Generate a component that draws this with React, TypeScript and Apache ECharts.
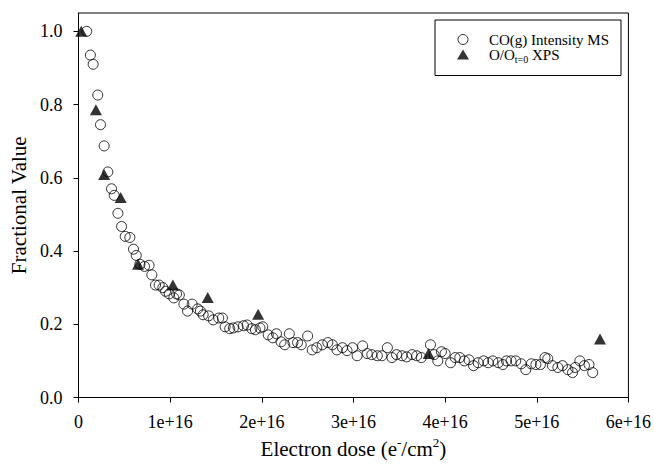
import React, { useEffect, useRef } from "react";
import * as echarts from "echarts";

// x in units of 1e16 electrons/cm^2, y = fractional value
const msDose = [
  0.09, 0.13, 0.16, 0.21, 0.24, 0.28, 0.32, 0.36, 0.39, 0.43, 0.47, 0.51, 0.56, 0.6, 0.63, 0.67,
  0.72, 0.77, 0.8, 0.84, 0.88, 0.92, 0.95, 0.99, 1.04, 1.07, 1.1, 1.15, 1.19, 1.24, 1.3, 1.33,
  1.36, 1.42, 1.47, 1.53, 1.57, 1.6, 1.65, 1.69, 1.74, 1.8, 1.84, 1.89, 1.93, 1.98, 2.01, 2.07,
  2.12, 2.16, 2.21, 2.25, 2.3, 2.34, 2.39, 2.43, 2.5, 2.55, 2.6, 2.66, 2.72, 2.77, 2.82, 2.88,
  2.93, 2.99, 3.04, 3.1, 3.15, 3.2, 3.26, 3.31, 3.37, 3.42, 3.47, 3.53, 3.58, 3.64, 3.69, 3.74,
  3.84, 3.88, 3.92, 3.96, 4.0, 4.06, 4.11, 4.16, 4.21, 4.26, 4.31, 4.36, 4.42, 4.47, 4.52, 4.58,
  4.63, 4.67, 4.72, 4.77, 4.83, 4.88, 4.94, 4.99, 5.04, 5.09, 5.12, 5.17, 5.23, 5.28, 5.34, 5.39,
  5.42, 5.47, 5.52, 5.57, 5.61,
];
const msValue = [
  1.0, 0.935, 0.91, 0.826, 0.745, 0.687, 0.616, 0.57, 0.552, 0.503, 0.467, 0.44, 0.437, 0.405, 0.388, 0.364,
  0.358, 0.361, 0.335, 0.307, 0.307, 0.3, 0.29, 0.283, 0.272, 0.283, 0.28, 0.255, 0.236, 0.255, 0.242, 0.236,
  0.226, 0.223, 0.212, 0.217, 0.217, 0.193, 0.188, 0.19, 0.193, 0.196, 0.198, 0.188, 0.185, 0.19, 0.193, 0.171,
  0.163, 0.174, 0.152, 0.144, 0.174, 0.15, 0.15, 0.144, 0.168, 0.13, 0.136, 0.144, 0.15, 0.144, 0.13, 0.136,
  0.128, 0.136, 0.114, 0.141, 0.12, 0.117, 0.114, 0.114, 0.136, 0.109, 0.117, 0.114, 0.111, 0.117, 0.114, 0.109,
  0.144, 0.117, 0.1, 0.125, 0.12, 0.095, 0.109, 0.109, 0.1, 0.103, 0.087, 0.095, 0.1, 0.095, 0.1, 0.095,
  0.09, 0.1, 0.1, 0.1, 0.092, 0.076, 0.092, 0.09, 0.09, 0.109, 0.106, 0.087, 0.082, 0.087, 0.076, 0.068,
  0.082, 0.1, 0.087, 0.09, 0.068,
];
const xpsDose = [0.03, 0.19, 0.28, 0.46, 0.65, 1.03, 1.41, 1.96, 3.82, 5.69];
const xpsValue = [1.0, 0.786, 0.609, 0.546, 0.364, 0.307, 0.273, 0.227, 0.12, 0.16];

const xTicks = [0, 1, 2, 3, 4, 5, 6];
const xTickLabels = ["0", "1e+16", "2e+16", "3e+16", "4e+16", "5e+16", "6e+16"];
const yTicks = [0, 0.2, 0.4, 0.6, 0.8, 1.0];
const yTickLabels = ["0.0", "0.2", "0.4", "0.6", "0.8", "1.0"];

const seriesNames = ["CO(g) Intensity MS", "O/O_t=0 XPS"];

const FONT = "Liberation Serif";

export default function App() {
  const ref = useRef<HTMLDivElement>(null);
  useEffect(() => {
    if (!ref.current) return;
    const chart = echarts.init(ref.current, undefined, { renderer: "svg" });
    const base = { fontFamily: FONT, color: "#000" };
    chart.setOption({
      animation: false,
      backgroundColor: "#fff",
      textStyle: base,
      grid: {
        left: 77,
        right: 24,
        top: 13,
        bottom: 64,
        show: true,
        borderColor: "#000",
        borderWidth: 1,
        backgroundColor: "transparent",
      },
      legend: {
        orient: "vertical",
        left: 435,
        top: 20,
        backgroundColor: "#fff",
        borderColor: "#000",
        borderWidth: 1,
        borderRadius: 0,
        padding: [12, 12, 11, 22],
        itemWidth: 12,
        itemHeight: 10,
        itemGap: 0,
        itemStyle: { borderWidth: 1 },
        data: seriesNames,
        formatter: (name: string) =>
          name === seriesNames[1] ? "{f|O/O}{s|t=0}{n| XPS}" : "{f|" + name + "}",
        textStyle: {
          ...base,
          fontSize: 15,
          rich: {
            f: { ...base, fontSize: 15, lineHeight: 20, padding: [0, 0, 0, 15] },
            n: { ...base, fontSize: 15, lineHeight: 20 },
            s: { ...base, fontSize: 10, lineHeight: 10, verticalAlign: "bottom" },
          },
        },
      },
      xAxis: {
        type: "value",
        min: 0,
        max: 6,
        interval: 1,
        name: "{n|Electron dose (e}{u|-}{n|/cm}{u|2}{n|)}",
        nameLocation: "middle",
        nameGap: 38,
        nameTextStyle: {
          ...base,
          fontSize: 21,
          rich: {
            n: { ...base, fontSize: 21, lineHeight: 26 },
            u: { ...base, fontSize: 13, lineHeight: 13, verticalAlign: "top" },
          },
        },
        axisLine: { show: true, lineStyle: { color: "#000", width: 1 } },
        axisTick: {
          show: true,
          inside: false,
          length: 5,
          lineStyle: { color: "#000" },
          customValues: xTicks,
        },
        axisLabel: {
          ...base,
          fontSize: 18,
          margin: 14,
          customValues: xTicks,
          formatter: (v: number) => "{t|" + xTickLabels[xTicks.indexOf(v)] + "}",
          rich: { t: { ...base, fontSize: 18, lineHeight: 20 } },
        },
        splitLine: { show: false },
      },
      yAxis: {
        type: "value",
        min: 0,
        max: 1.05,
        interval: 0.2,
        name: "{t|Fractional Value}",
        nameLocation: "middle",
        nameRotate: 90,
        nameGap: 47,
        nameTextStyle: {
          ...base,
          fontSize: 21,
          rich: { t: { ...base, fontSize: 21, lineHeight: 26 } },
        },
        axisLine: { show: true, lineStyle: { color: "#000", width: 1 } },
        axisTick: {
          show: true,
          inside: false,
          length: 5,
          lineStyle: { color: "#000" },
          customValues: yTicks,
        },
        axisLabel: {
          ...base,
          fontSize: 18,
          margin: 16,
          customValues: yTicks,
          formatter: (v: number) =>
            "{t|" + yTickLabels[yTicks.findIndex((t) => Math.abs(t - v) < 1e-6)] + "}",
          rich: { t: { ...base, fontSize: 18, lineHeight: 20 } },
        },
        splitLine: { show: false },
      },
      series: [
        {
          name: seriesNames[0],
          type: "scatter",
          symbol: "circle",
          symbolSize: 10,
          itemStyle: { color: "rgba(0,0,0,0)", borderColor: "#000", borderWidth: 1 },
          data: msDose.map((x, i) => [x, msValue[i]]),
          z: 2,
        },
        {
          name: seriesNames[1],
          type: "scatter",
          symbol: "triangle",
          symbolSize: [12, 11],
          itemStyle: { color: "#000" },
          data: xpsDose.map((x, i) => [x, xpsValue[i]]),
          z: 3,
        },
      ],
    });
    return () => chart.dispose();
  }, []);
  return <div ref={ref} style={{ width: 654, height: 464, position: "absolute", left: 0, top: 0 }} />;
}
